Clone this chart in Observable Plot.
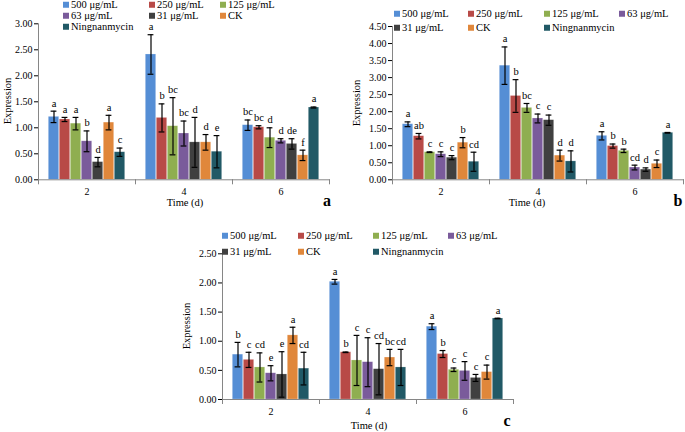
<!DOCTYPE html>
<html><head><meta charset="utf-8">
<script src="https://cdn.jsdelivr.net/npm/d3@7"></script>
<script src="https://cdn.jsdelivr.net/npm/@observablehq/plot@0.6"></script>
<style>
body{margin:0;width:685px;height:432px;position:relative;background:#fff;font-family:"Liberation Serif","Times New Roman",serif;overflow:hidden}
svg, svg text{font-family:"Liberation Serif","Times New Roman",serif !important}
.panel{position:absolute}
.t{position:absolute;font-size:10.5px;color:#000;white-space:nowrap;line-height:1}
.lg{position:absolute;font-size:10.5px;color:#000;white-space:nowrap;line-height:1;transform:translateY(-50%);display:flex;align-items:center}
.lg i{display:inline-block;width:6px;height:6px;margin-right:2px}
.rot{transform:translate(-50%,-50%) rotate(-90deg)}
.ctr{transform:translate(-50%,-50%)}
.pl{position:absolute;font-weight:bold;font-size:16px;transform:translate(-50%,-50%)}
</style></head>
<body>
<script>
// ---------- data ----------
const groups = ["2", "4", "6"];
const series = ["500 μg/mL", "250 μg/mL", "125 μg/mL", "63 μg/mL", "31 μg/mL", "CK", "Ningnanmycin"];
const colors = ["#558ED5", "#B84A47", "#8FAE50", "#7A5B9B", "#404040", "#E0873B", "#215966"];

// panel a
const aMean = [[1.21,1.16,1.08,0.74,0.34,1.10,0.53],[2.41,1.19,1.03,0.89,0.72,0.72,0.54],[1.05,1.01,0.81,0.75,0.69,0.47,1.39]];
const aErr  = [[0.11,0.04,0.12,0.20,0.09,0.14,0.08],[0.38,0.27,0.55,0.24,0.48,0.15,0.31],[0.10,0.03,0.19,0.04,0.10,0.10,0.01]];
const aLet  = [["a","a","a","b","d","a","c"],["a","b","bc","bc","d","d","e"],["bc","bc","d","d","de","f","a"]];
// panel b
const bMean = [[1.63,1.28,0.81,0.75,0.65,1.09,0.53],[3.35,2.46,2.11,1.80,1.75,0.71,0.54],[1.29,0.99,0.85,0.36,0.30,0.47,1.38]];
const bErr  = [[0.07,0.08,0.01,0.07,0.06,0.15,0.28],[0.55,0.48,0.13,0.13,0.15,0.16,0.31],[0.12,0.06,0.05,0.07,0.05,0.11,0.01]];
const bLet  = [["a","ab","c","c","c","b","cd"],["a","b","bc","c","c","d","d"],["a","b","b","cd","d","c","a"]];
// panel c
const cMean = [[0.77,0.68,0.55,0.45,0.43,1.10,0.53],[2.02,0.81,0.67,0.64,0.52,0.72,0.55],[1.25,0.78,0.51,0.49,0.37,0.47,1.39]];
const cErr  = [[0.21,0.13,0.25,0.13,0.39,0.14,0.28],[0.04,0.005,0.43,0.42,0.44,0.14,0.31],[0.05,0.06,0.03,0.16,0.06,0.12,0.005]];
const cLet  = [["b","c","cd","e","e","a","cd"],["a","b","c","c","cd","bc","cd"],["a","b","c","c","c","c","a"]];

const yTicksA = [0,0.5,1,1.5,2,2.5,3];
const yTicksB = [0,0.5,1,1.5,2,2.5,3,3.5,4,4.5];
const yTicksC = [0,0.5,1,1.5,2,2.5];

// ---------- drawing ----------
const axisGray = "#868686";
const serif = "'Liberation Serif','Times New Roman',serif";
function makePanel(cfg) {
  const rows = [];
  groups.forEach((g, gi) => series.forEach((s, si) => rows.push({
    group: g, series: s, mean: cfg.mean[gi][si], err: cfg.err[gi][si], letter: cfg.letters[gi][si]
  })));
  const innerH = cfg.height - cfg.mt - cfg.mb;
  const common = {fx: "group", x: "series"};
  const lo = d => d.mean - d.err, hi = d => d.mean + d.err;
  const chart = Plot.plot({
    width: cfg.width, height: cfg.height,
    marginLeft: cfg.ml, marginRight: cfg.mr, marginTop: cfg.mt, marginBottom: cfg.mb,
    style: {fontFamily: serif, fontSize: "10px", color: "#000", background: "transparent", overflow: "visible"},
    fx: {domain: groups, padding: 0, label: null, tickSize: 0, tickPadding: 8, axis: "bottom"},
    x: {domain: series, paddingInner: 0, paddingOuter: 0.8, axis: null},
    y: {domain: [0, cfg.ticks[cfg.ticks.length - 1]], ticks: cfg.ticks, tickFormat: d3.format(".2f"), tickSize: 4, tickPadding: 2, label: null},
    color: {domain: series, range: colors},
    marks: [
      Plot.barY(rows, {...common, y: "mean", fill: "series", stroke: "#fff", strokeOpacity: 0.35, strokeWidth: 0.6, insetLeft: 0.3, insetRight: 0.3}),
      Plot.ruleX(rows, {...common, y1: lo, y2: hi, stroke: "#000", strokeWidth: 1.2}),
      Plot.tickY(rows, {...common, y: lo, stroke: "#000", strokeWidth: 1.2, insetLeft: 2.6, insetRight: 2.6}),
      Plot.tickY(rows, {...common, y: hi, stroke: "#000", strokeWidth: 1.2, insetLeft: 2.6, insetRight: 2.6}),
      Plot.text(rows, {...common, y: hi, text: "letter", dy: -8, fontSize: 10.5, fill: "#000", fontFamily: serif}),
      Plot.frame({anchor: "bottom", stroke: axisGray}),
      Plot.frame({anchor: "left", facetAnchor: "left", stroke: axisGray}),
      Plot.frame({anchor: "left", stroke: axisGray, insetTop: innerH, insetBottom: -4}),
      Plot.frame({anchor: "right", facetAnchor: "right", stroke: axisGray, insetTop: innerH, insetBottom: -4})
    ]
  });
  const div = document.createElement("div");
  div.className = "panel";
  div.style.left = cfg.left + "px";
  div.style.top = cfg.top + "px";
  div.appendChild(chart);
  document.body.appendChild(div);
}

function addText(cls, txt, x, y) {
  const el = document.createElement("div");
  el.className = cls;
  el.textContent = txt;
  el.style.left = x + "px";
  el.style.top = y + "px";
  document.body.appendChild(el);
}
function addLegend(cols, rowsY) {
  series.forEach((s, i) => {
    const c = i % cols.length, r = Math.floor(i / cols.length);
    const el = document.createElement("div");
    el.className = "lg";
    el.style.left = (cols[c] - 3) + "px";
    el.style.top = rowsY[r] + "px";
    const sw = document.createElement("i");
    sw.style.background = colors[i];
    el.appendChild(sw);
    el.appendChild(document.createTextNode(s));
    document.body.appendChild(el);
  });
}

makePanel({left: 0, top: 0, width: 340, height: 210, ml: 38, mr: 11, mt: 23.3, mb: 30.7, ticks: yTicksA, mean: aMean, err: aErr, letters: aLet});
makePanel({left: 340, top: 0, width: 345, height: 210, ml: 51, mr: 2, mt: 26, mb: 30.7, ticks: yTicksB, mean: bMean, err: bErr, letters: bLet});
makePanel({left: 170, top: 210, width: 360, height: 222, ml: 52, mr: 17, mt: 43.3, mb: 33, ticks: yTicksC, mean: cMean, err: cErr, letters: cLet});

addLegend([66, 152, 223], [5, 16, 27]);
addLegend([397, 471, 547, 622], [14, 28]);
addLegend([225, 301, 376, 451], [236, 252]);

addText("t rot", "Expression", 8, 101);
addText("t rot", "Expression", 357, 103);
addText("t rot", "Expression", 187, 326);
addText("t ctr", "Time (d)", 185, 203);
addText("t ctr", "Time (d)", 527, 203);
addText("t ctr", "Time (d)", 369, 426);
addText("pl", "a", 327, 201);
addText("pl", "b", 678, 201);
addText("pl", "c", 507, 421);
</script>
</body></html>
